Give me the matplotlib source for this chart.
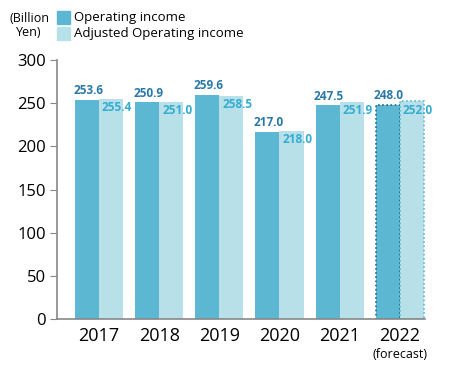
import matplotlib
matplotlib.use("Agg")
import matplotlib.pyplot as plt
import numpy as np

years = ["2017", "2018", "2019", "2020", "2021", "2022"]
operating = [253.6, 250.9, 259.6, 217.0, 247.5, 248.0]
adjusted = [255.4, 251.0, 258.5, 218.0, 251.9, 252.0]
forecast_note = "(forecast)"
yticks = [0, 50, 100, 150, 200, 250, 300]

plt.rcParams['font.family'] = ['Open Sans', 'DejaVu Sans']

DARK = "#5bb7d2"
LIGHT = "#b8e0e9"
DARK_TXT = "#2a78a6"
LIGHT_TXT = "#34acd0"

fig = plt.figure(figsize=(4.5, 3.7), dpi=100)
ax = fig.add_axes([57/450, 1-319/370, (425-57)/450, (319-60)/370])

x = np.arange(len(years))
w = 0.4
n = len(years)
for i in range(n):
    fc = i == n - 1
    ax.bar(x[i] - w/2, operating[i], w, color=DARK,
           edgecolor="#1d6a8c" if fc else "none", linestyle=(0, (1, 1.5)) if fc else "-",
           linewidth=1.2 if fc else 0)
    ax.bar(x[i] + w/2, adjusted[i], w, color=LIGHT,
           edgecolor="#5bb7d2" if fc else "none", linestyle=(0, (1, 1.5)) if fc else "-",
           linewidth=1.2 if fc else 0)
    ax.text(x[i] - w/2 + 0.02, operating[i] + 3, f"{operating[i]:.1f}", ha="center", va="bottom",
            color=DARK_TXT, fontsize=8.5, fontweight="bold")
    ax.text(x[i] + w/2 + 0.1, adjusted[i] - 2.5, f"{adjusted[i]:.1f}", ha="center", va="top",
            color=LIGHT_TXT, fontsize=8.5, fontweight="bold")

ax.set_xlim(-0.7, 5.42)
ax.set_ylim(0, 300)
ax.set_yticks(yticks)
ax.set_yticklabels([str(t) for t in yticks], fontsize=12)
ax.set_xticks(x)
ax.set_xticklabels(years, fontsize=13)
ax.tick_params(axis="x", length=0, pad=6)
ax.tick_params(axis="y", length=5, color="#888888", pad=3)
for s in ["top", "right"]:
    ax.spines[s].set_visible(False)
for s in ["left", "bottom"]:
    ax.spines[s].set_color("#888888")
    ax.spines[s].set_linewidth(1.2)

fig.text(400/450, 1-355/370, forecast_note, ha="center", va="center", fontsize=9)
fig.text(29/450, 1-26/370, "(Billion\nYen)", ha="center", va="center", fontsize=9,
         linespacing=1.1)

# legend
fig.patches.append(plt.Rectangle((57/450, 1-24/370), 13/450, 13/370, transform=fig.transFigure,
                                 color=DARK))
fig.patches.append(plt.Rectangle((57/450, 1-40/370), 13/450, 13/370, transform=fig.transFigure,
                                 color=LIGHT))
fig.text(74/450, 1-17/370, "Operating income", va="center", fontsize=9.5)
fig.text(74/450, 1-33/370, "Adjusted Operating income", va="center", fontsize=9.5)

fig.savefig("out.png", dpi=100)
